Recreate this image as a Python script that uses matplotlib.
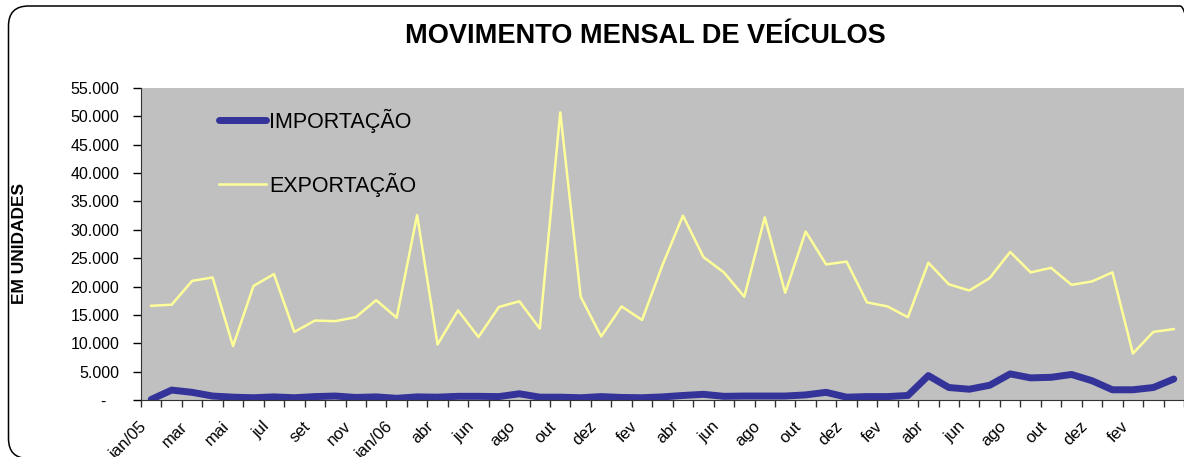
import numpy as np
import matplotlib.pyplot as plt
from matplotlib.patches import FancyBboxPatch
from matplotlib.ticker import FuncFormatter
from matplotlib.transforms import ScaledTranslation

plt.rcParams['font.family'] = ['Liberation Sans', 'DejaVu Sans']

# Meses (um mês ausente na série original entre jan/06 e abr)
meses = ['jan/05', 'fev', 'mar', 'abr', 'mai', 'jun', 'jul', 'ago', 'set', 'out', 'nov', 'dez',
         'jan/06', 'mar', 'abr', 'mai', 'jun', 'jul', 'ago', 'set', 'out', 'nov', 'dez',
         'jan/07', 'fev', 'mar', 'abr', 'mai', 'jun', 'jul', 'ago', 'set', 'out', 'nov', 'dez',
         'jan/08', 'fev', 'mar', 'abr', 'mai', 'jun', 'jul', 'ago', 'set', 'out', 'nov', 'dez',
         'jan/09', 'fev', 'mar', 'abr']

importacao = [100, 1750, 1350, 700, 500, 400, 550, 400, 600, 700,
              450, 550, 300, 550, 500, 650, 650, 600, 1100, 500,
              500, 400, 600, 450, 400, 550, 800, 1000, 650, 700,
              700, 700, 900, 1350, 500, 600, 600, 800, 4300, 2200,
              1900, 2600, 4600, 3900, 4000, 4500, 3400, 1800, 1800, 2200,
              3700]

exportacao = [16600, 16800, 21000, 21600, 9500, 20100, 22200, 12000, 14000, 13900,
              14600, 17600, 14500, 32600, 9800, 15800, 11100, 16400, 17400, 12600,
              50700, 18200, 11200, 16500, 14100, 23800, 32500, 25200, 22500, 18200,
              32200, 18900, 29700, 23900, 24400, 17200, 16500, 14600, 24200, 20400,
              19300, 21500, 26100, 22500, 23300, 20300, 20900, 22500, 8200, 12000,
              12500]

x = np.arange(len(meses))

fig = plt.figure(figsize=(11.84, 4.57), dpi=100)
ax = fig.add_axes([141 / 1184, 57 / 457, 1 - 141 / 1184, 312 / 457])
ax.set_facecolor('#C0C0C0')

ax.plot(x, importacao, color='#333399', lw=5, solid_joinstyle='round',
        solid_capstyle='round', label='IMPORTAÇÃO')
ax.plot(x, exportacao, color='#FFFF99', lw=1.8, label='EXPORTAÇÃO')

ax.set_ylim(0, 55000)
ax.set_xlim(-0.5, 49.89)
ax.set_yticks(np.arange(0, 55001, 5000))
ax.yaxis.set_major_formatter(FuncFormatter(
    lambda v, p: '-   ' if v == 0 else f'{int(v):,}'.replace(',', '.')))
ax.tick_params(axis='y', direction='out', length=6, width=1, labelsize=11.5, pad=9.5)

# marcas entre categorias, rótulos a cada dois meses
ax.set_xticks(np.arange(-0.5, len(meses), 1))
ax.set_xticklabels([])
ax.tick_params(axis='x', which='major', direction='out', length=5, width=1, color='#333333')
rot = x[:49:2]
ax.set_xticks(rot, minor=True)
ax.set_xticklabels([meses[i] for i in rot], minor=True, rotation=45, ha='right',
                   rotation_mode='anchor', fontsize=12)
ax.tick_params(axis='x', which='minor', length=0, pad=13.5)
desloc = ScaledTranslation(-12 / 100, 0, fig.dpi_scale_trans)
for lab in ax.get_xticklabels(minor=True):
    lab.set_transform(lab.get_transform() + desloc)

for s in ['top', 'right']:
    ax.spines[s].set_visible(False)
ax.spines['left'].set_color('#333333')
ax.spines['bottom'].set_color('#333333')

ax.legend(frameon=False, loc='upper left', bbox_to_anchor=(0.064, 0.969),
          fontsize=15.5, handlelength=2.2, handletextpad=0.15, labelspacing=1.85,
          borderpad=0)

ax.set_ylabel('EM UNIDADES', fontsize=12.5, fontweight='bold', labelpad=0)
ax.yaxis.set_label_coords(-114 / 1043, 0.5)

fig.text(645 / 1184, 1 - 36 / 457, 'MOVIMENTO MENSAL DE VEÍCULOS', fontsize=19.5,
         fontweight='bold', ha='center', va='center')

borda = FancyBboxPatch((0.085, -0.015), 12.0 - 0.085, 4.51 + 0.015,
                       boxstyle='round,pad=0,rounding_size=0.2',
                       transform=fig.dpi_scale_trans, fill=False,
                       edgecolor='black', lw=1.1)
fig.patches.append(borda)

fig.savefig('out.png', dpi=100)
